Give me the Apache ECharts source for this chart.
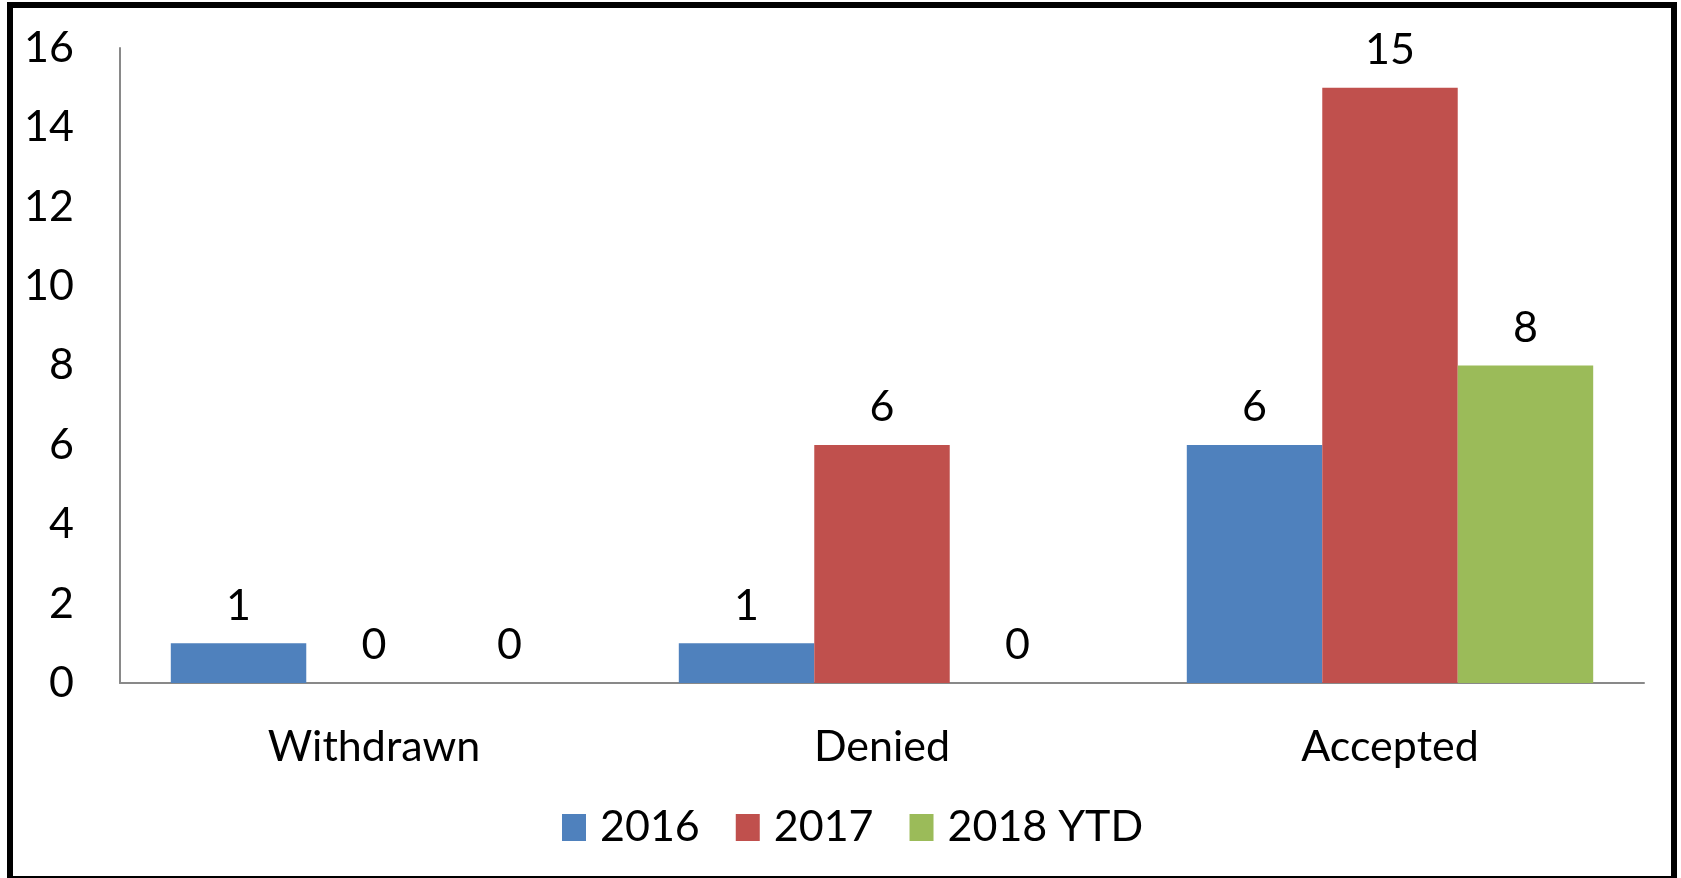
<!DOCTYPE html>
<html>
<head>
<meta charset="utf-8">
<script src="https://cdn.jsdelivr.net/npm/echarts@6/dist/echarts.min.js"></script>
<style>
html,body{margin:0;padding:0;background:#fff;overflow:hidden;}
#chart{position:absolute;left:0;top:0;width:1681px;height:878px;}
#frame{position:absolute;left:7px;top:2px;width:1658px;height:868px;border:6px solid #000;pointer-events:none;}
</style>
</head>
<body>
<div id="chart"></div>
<div id="frame"></div>
<script>
const categories = ['Withdrawn', 'Denied', 'Accepted'];
const seriesNames = ['2016', '2017', '2018 YTD'];
const values2016 = [1, 1, 6];
const values2017 = [0, 6, 15];
const values2018 = [0, 0, 8];
const colors = ['#4F81BD', '#C0504D', '#9BBB59'];
const yTicks = [0, 2, 4, 6, 8, 10, 12, 14, 16];

const FONT = 'Lato';
const FS = 43;
const chart = echarts.init(document.getElementById('chart'), null, {renderer: 'canvas'});
const seriesData = [values2016, values2017, values2018];
chart.setOption({
  animation: false,
  backgroundColor: '#fff',
  textStyle: {fontFamily: FONT, color: '#000'},
  grid: {left: 120, right: 37, top: 48, bottom: 195, containLabel: false},
  legend: {
    data: seriesNames,
    left: 557, top: 801,
    itemWidth: 24, itemHeight: 27, itemGap: 36,
    icon: 'rect',
    textStyle: {fontFamily: FONT, fontSize: FS, color: '#000', padding: [0, 0, 0, 9]}
  },
  xAxis: {
    type: 'category',
    data: categories,
    axisLine: {show: true, lineStyle: {color: '#898989', width: 2}},
    axisTick: {show: false},
    axisLabel: {fontFamily: FONT, fontSize: FS, color: '#000', margin: 43}
  },
  yAxis: {
    type: 'value',
    min: yTicks[0], max: yTicks[yTicks.length - 1], interval: 2,
    axisLine: {show: true, lineStyle: {color: '#898989', width: 2}},
    axisTick: {show: false},
    splitLine: {show: false},
    axisLabel: {fontFamily: FONT, fontSize: FS, color: '#000', margin: 46}
  },
  series: seriesNames.map((name, i) => ({
    name: name,
    type: 'bar',
    data: seriesData[i],
    barGap: '0%',
    barCategoryGap: '20%',
    itemStyle: {color: colors[i]},
    label: {show: true, position: 'top', distance: 16, fontFamily: FONT, fontSize: FS, color: '#000'}
  }))
});
</script>
</body>
</html>
